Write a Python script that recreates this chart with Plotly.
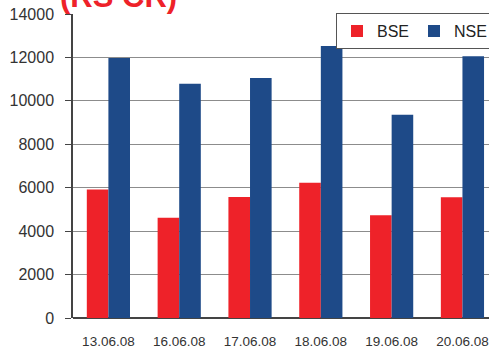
import plotly.graph_objects as go

dates = ["13.06.08", "16.06.08", "17.06.08", "18.06.08", "19.06.08", "20.06.08"]
bse = [5920, 4620, 5570, 6230, 4730, 5560]
nse = [11970, 10790, 11050, 12530, 9360, 12060]
y_ticks = [0, 2000, 4000, 6000, 8000, 10000, 12000, 14000]
y_ticktext = ["0", "2000", "4000", "6000", "8000", "10000", "12000", "14000"]
title_text = "(RS CR)"

font = "Liberation Sans, Arial, sans-serif"

fig = go.Figure()
fig.add_trace(go.Bar(x=dates, y=bse, name="BSE", marker=dict(color="#EE2229", line=dict(width=0))))
fig.add_trace(go.Bar(x=dates, y=nse, name="NSE", marker=dict(color="#1E4A88", line=dict(width=0))))

fig.update_layout(
    width=489, height=349,
    margin=dict(l=73, r=0, t=14, b=31, autoexpand=False),
    paper_bgcolor="white", plot_bgcolor="white",
    barmode="group", bargap=0.39, bargroupgap=0,
    showlegend=True,
    legend=dict(orientation="h", x=(336 - 73) / 416, xref="paper", y=1.003, yanchor="top",
                xanchor="left", bgcolor="white", bordercolor="#555555", borderwidth=1,
                font=dict(family=font, size=16, color="#222222"),
                itemwidth=30, tracegroupgap=0),
    font=dict(family=font),
    xaxis=dict(range=[-0.5, 5.375], showgrid=False, showline=False, ticks="",
               tickfont=dict(family=font, size=13.5, color="#333333"),
               ticklabelstandoff=13, automargin=False),
    yaxis=dict(range=[0, 14000], tickvals=y_ticks, ticktext=y_ticktext,
               showgrid=True, gridcolor="#8c8c8c", gridwidth=1,
               showline=True, linecolor="#444444", linewidth=1.5, ticks="outside", ticklen=6,
               tickcolor="#444444", zeroline=True, zerolinecolor="#444444", zerolinewidth=1.5,
               tickfont=dict(family=font, size=16, color="#333333"),
               ticklabelstandoff=8, automargin=False),
    annotations=[dict(text="<b>" + title_text + "</b>", xref="paper", yref="paper",
                      x=-(73 - 58) / 416, y=1.0, xanchor="left", yanchor="bottom", yshift=-2,
                      showarrow=False, font=dict(family=font, size=31, color="#EE2229"))],
)
fig.write_html("out.html")
